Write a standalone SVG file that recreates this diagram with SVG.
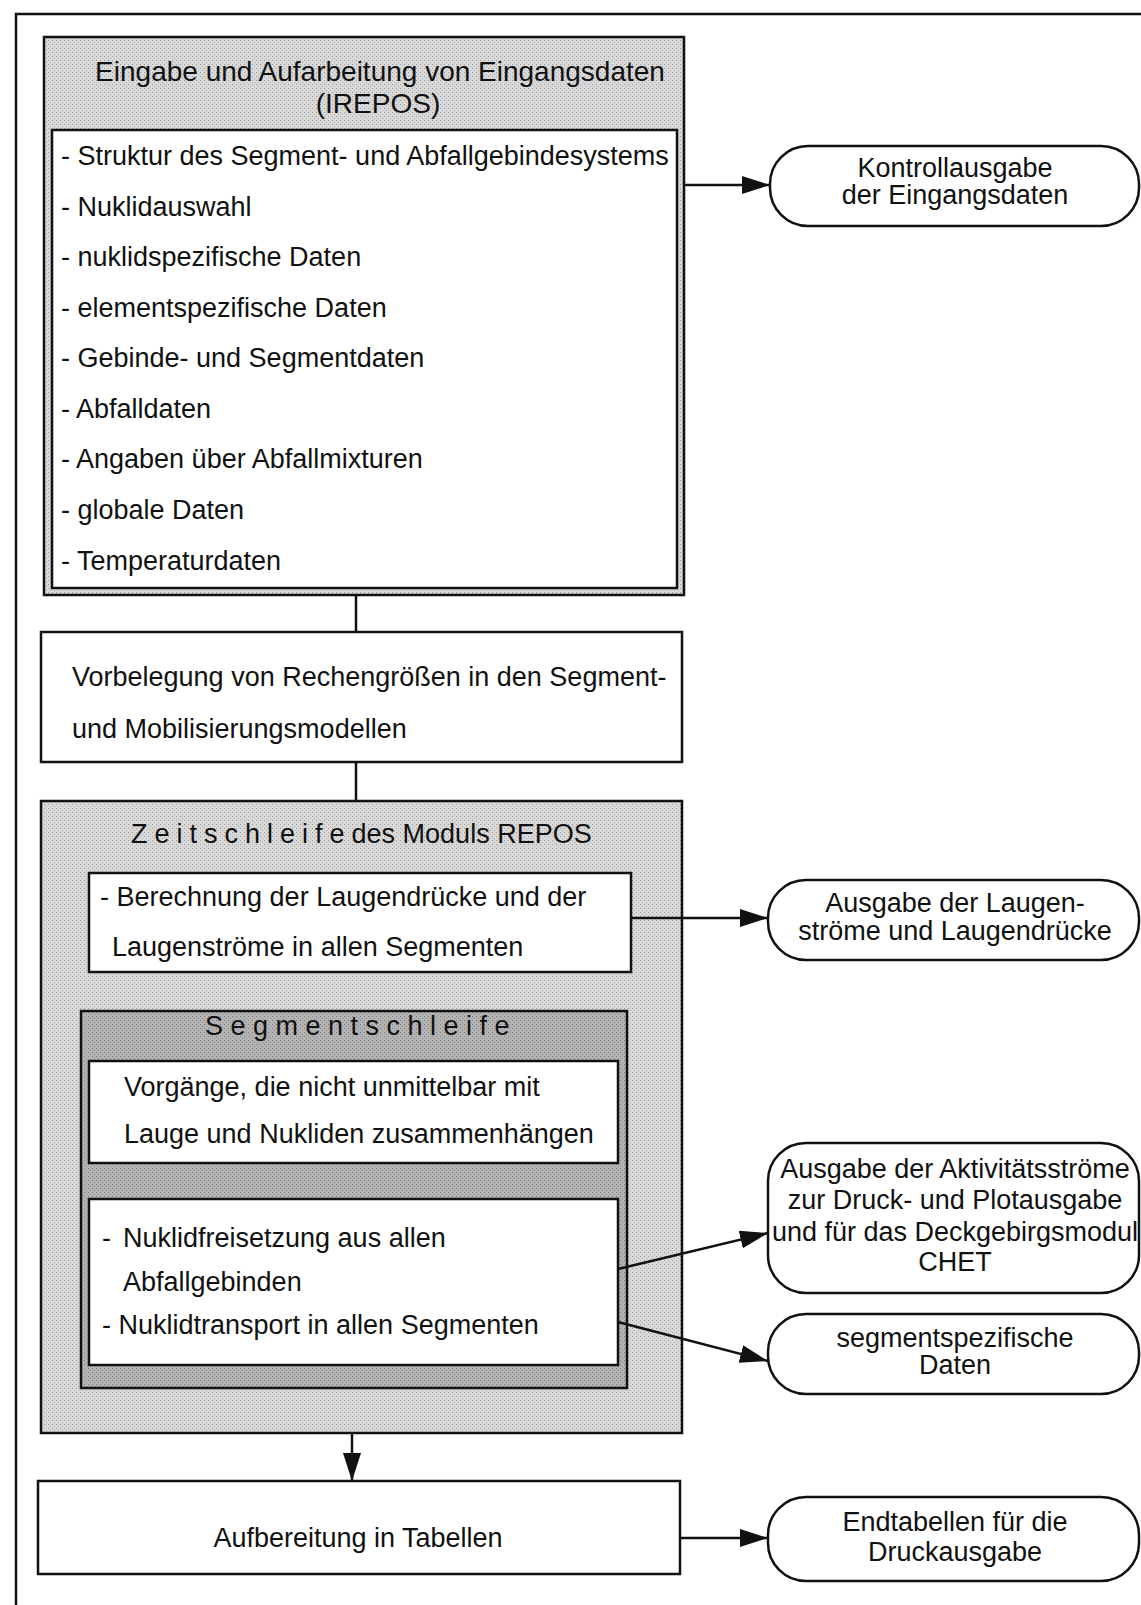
<svg xmlns="http://www.w3.org/2000/svg" width="1141" height="1605" viewBox="0 0 1141 1605">
  <defs>
    <marker id="arrow" markerUnits="userSpaceOnUse" markerWidth="30" markerHeight="20" refX="28" refY="9" orient="auto">
      <path d="M0,0 L28,9 L0,18 Z" fill="#111"/>
    </marker>
    <pattern id="stipple" width="4" height="4" patternUnits="userSpaceOnUse">
      <rect width="4" height="4" fill="#d9d9d9"/>
      <rect x="0" y="0" width="1" height="1" fill="#9a9a9a"/>
      <rect x="2" y="2" width="1" height="1" fill="#b0b0b0"/>
    </pattern>
    <pattern id="stippleDark" width="4" height="4" patternUnits="userSpaceOnUse">
      <rect width="4" height="4" fill="#b4b4b4"/>
      <rect x="0" y="0" width="1" height="1" fill="#7a7a7a"/>
      <rect x="2" y="2" width="1" height="1" fill="#8c8c8c"/>
    </pattern>
  </defs>
  <style>
    text { font-family: "Liberation Sans", Arial, Helvetica, sans-serif; font-size: 27px; fill: #111; }
    .c { text-anchor: middle; }
    .title { font-size: 28px; }
    .box { fill: #fff; stroke: #111; stroke-width: 2.5; }
    .shade { fill: url(#stipple); stroke: #111; stroke-width: 2.5; }
    .shadeDark { fill: url(#stippleDark); stroke: #111; stroke-width: 2.5; }
    .term { fill: #fff; stroke: #111; stroke-width: 2.5; }
    .line { fill: none; stroke: #111; stroke-width: 2.5; }
    .arr { fill: none; stroke: #111; stroke-width: 2.5; marker-end: url(#arrow); }
    .spaced { letter-spacing: 7px; }
    .spaced2 { letter-spacing: 7.5px; }
  </style>

  <rect width="1141" height="1605" fill="#fff"/>

  <!-- page frame (left and top rule) -->
  <path class="line" d="M16,1605 L16,14 L1141,14" stroke-width="3"/>

  <!-- input module IREPOS -->
  <g id="irepos">
    <rect class="shade" x="44" y="37" width="640" height="558"/>
    <text class="c title" x="380" y="81">Eingabe und Aufarbeitung von Eingangsdaten</text>
    <text class="c title" x="378" y="113">(IREPOS)</text>
    <rect class="box" x="52" y="130" width="625" height="458"/>
    <text x="61" y="165">- Struktur des Segment- und Abfallgebindesystems</text>
    <text x="61" y="216">- Nuklidauswahl</text>
    <text x="61" y="266">- nuklidspezifische Daten</text>
    <text x="61" y="317">- elementspezifische Daten</text>
    <text x="61" y="367">- Gebinde- und Segmentdaten</text>
    <text x="61" y="418">- Abfalldaten</text>
    <text x="61" y="468">- Angaben über Abfallmixturen</text>
    <text x="61" y="519">- globale Daten</text>
    <text x="61" y="570">- Temperaturdaten</text>
  </g>

  <!-- control output -->
  <g id="kontrollausgabe">
    <rect class="term" x="770" y="146" width="369" height="80" rx="38" ry="38"/>
    <text class="c" x="955" y="177">Kontrollausgabe</text>
    <text class="c" x="955" y="204">der Eingangsdaten</text>
  </g>

  <!-- presetting -->
  <g id="vorbelegung">
    <rect class="box" x="41" y="632" width="641" height="130"/>
    <text x="72" y="686">Vorbelegung von Rechengrößen in den Segment-</text>
    <text x="72" y="738">und Mobilisierungsmodellen</text>
  </g>

  <!-- time loop -->
  <g id="zeitschleife">
    <rect class="shade" x="41" y="801" width="641" height="632"/>
    <text x="131" y="843"><tspan class="spaced">Zeitschleife</tspan>des Moduls REPOS</text>
  </g>

  <g id="laugen">
    <rect class="box" x="89" y="873" width="542" height="99"/>
    <text x="100" y="906">- Berechnung der Laugendrücke und der</text>
    <text x="112" y="956">Laugenströme in allen Segmenten</text>
  </g>

  <g id="laugen-ausgabe">
    <rect class="term" x="768" y="880" width="371" height="80" rx="38" ry="38"/>
    <text class="c" x="955" y="912">Ausgabe der Laugen-</text>
    <text class="c" x="955" y="940">ströme und Laugendrücke</text>
  </g>

  <!-- segment loop -->
  <g id="segmentschleife">
    <rect class="shadeDark" x="81" y="1011" width="546" height="377"/>
    <text x="205" y="1035"><tspan class="spaced2">Segmentschleife</tspan></text>
  </g>

  <g id="vorgaenge">
    <rect class="box" x="89" y="1061" width="529" height="102"/>
    <text x="124" y="1096">Vorgänge, die nicht unmittelbar mit</text>
    <text x="124" y="1143">Lauge und Nukliden zusammenhängen</text>
  </g>

  <g id="nuklide">
    <rect class="box" x="89" y="1199" width="529" height="166"/>
    <text x="102" y="1247">-</text>
    <text x="123" y="1247">Nuklidfreisetzung aus allen</text>
    <text x="123" y="1291">Abfallgebinden</text>
    <text x="102" y="1334">- Nuklidtransport in allen Segmenten</text>
  </g>

  <g id="aktivitaet">
    <rect class="term" x="768" y="1143" width="371" height="150" rx="38" ry="38"/>
    <text class="c" x="955" y="1178">Ausgabe der Aktivitätsströme</text>
    <text class="c" x="955" y="1209">zur Druck- und Plotausgabe</text>
    <text class="c" x="955" y="1241">und für das Deckgebirgsmodul</text>
    <text class="c" x="955" y="1271">CHET</text>
  </g>

  <g id="segmentdaten">
    <rect class="term" x="768" y="1314" width="371" height="80" rx="38" ry="38"/>
    <text class="c" x="955" y="1347">segmentspezifische</text>
    <text class="c" x="955" y="1374">Daten</text>
  </g>

  <!-- tables -->
  <g id="tabellen">
    <rect class="box" x="38" y="1481" width="642" height="93"/>
    <text class="c" x="358" y="1547">Aufbereitung in Tabellen</text>
  </g>

  <g id="endtabellen">
    <rect class="term" x="768" y="1497" width="371" height="84" rx="38" ry="38"/>
    <text class="c" x="955" y="1531">Endtabellen für die</text>
    <text class="c" x="955" y="1561">Druckausgabe</text>
  </g>

  <!-- connectors, drawn last so they cross the shaded frames -->
  <g id="connectors">
    <line class="line" x1="356" y1="595" x2="356" y2="632"/>
    <line class="line" x1="356" y1="762" x2="356" y2="801"/>
    <line class="arr" x1="684" y1="185" x2="770" y2="185"/>
    <line class="arr" x1="631" y1="918" x2="768" y2="918"/>
    <line class="arr" x1="618" y1="1269" x2="768" y2="1233"/>
    <line class="arr" x1="618" y1="1322" x2="768" y2="1361"/>
    <line class="arr" x1="352" y1="1433" x2="352" y2="1481"/>
    <line class="arr" x1="680" y1="1538" x2="768" y2="1538"/>
  </g>
</svg>
